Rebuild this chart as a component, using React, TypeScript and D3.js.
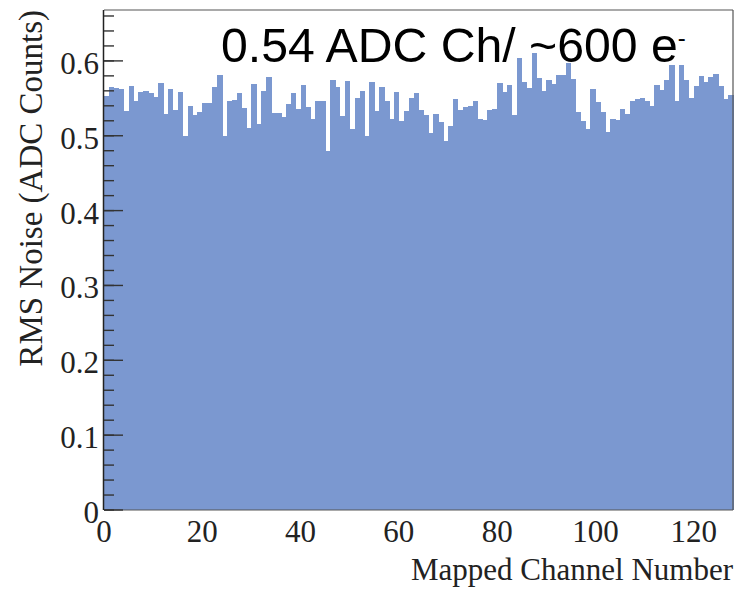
import React from "react";
import * as d3 from "d3";

const channels: number[] = d3.range(128);
const rmsNoise: number[] = [
  0.553, 0.565, 0.564, 0.562, 0.533, 0.567, 0.547, 0.558, 0.560, 0.557,
  0.552, 0.571, 0.529, 0.562, 0.534, 0.558, 0.500, 0.540, 0.528, 0.532,
  0.544, 0.544, 0.565, 0.581, 0.500, 0.547, 0.548, 0.557, 0.537, 0.511,
  0.569, 0.516, 0.560, 0.578, 0.531, 0.530, 0.525, 0.542, 0.557, 0.536,
  0.568, 0.538, 0.522, 0.546, 0.547, 0.480, 0.575, 0.565, 0.527, 0.573,
  0.509, 0.551, 0.560, 0.500, 0.572, 0.533, 0.565, 0.547, 0.522, 0.558,
  0.520, 0.533, 0.551, 0.557, 0.534, 0.528, 0.504, 0.529, 0.519, 0.493,
  0.513, 0.549, 0.535, 0.538, 0.540, 0.546, 0.523, 0.521, 0.535, 0.536,
  0.571, 0.559, 0.568, 0.528, 0.604, 0.572, 0.564, 0.611, 0.577, 0.560,
  0.575, 0.569, 0.581, 0.581, 0.597, 0.576, 0.532, 0.520, 0.509, 0.563,
  0.545, 0.532, 0.505, 0.523, 0.521, 0.536, 0.529, 0.547, 0.549, 0.550,
  0.546, 0.540, 0.568, 0.561, 0.575, 0.594, 0.547, 0.594, 0.574, 0.550,
  0.567, 0.580, 0.572, 0.579, 0.582, 0.566, 0.549, 0.555,
];
const xTicks: number[] = [0, 20, 40, 60, 80, 100, 120];
const yTicks: number[] = [0, 0.1, 0.2, 0.3, 0.4, 0.5, 0.6];
const yTickLabels: string[] = ["0", "0.1", "0.2", "0.3", "0.4", "0.5", "0.6"];
const xTitle = "Mapped Channel Number";
const yTitle = "RMS Noise (ADC Counts)";
const annotation = "0.54 ADC Ch/ ~600 e";
const annotationSup = "-";

export default function App() {
  const W = 738;
  const H = 590;
  const left = 104;
  const right = 733;
  const top = 10;
  const bottom = 510;
  const x = d3.scaleLinear().domain([0, 128]).range([left, right]);
  const y = d3.scaleLinear().domain([0, 0.668]).range([bottom, top]);
  const minor = d3.range(0, 0.668, 0.02);
  const serif = "'Liberation Serif', 'Times New Roman', serif";
  const sans = "'Liberation Sans', Arial, sans-serif";
  const fill = "#7b98d0";

  return (
    <svg
      width={W}
      height={H}
      style={{ position: "absolute", left: 0, top: 0, background: "#fff" }}
    >
      <rect x={0} y={0} width={W} height={H} fill="#fff" />
      {/* bars */}
      <g shapeRendering="crispEdges">
        {channels.map((c, i) => (
          <rect
            key={c}
            x={x(c)}
            y={y(rmsNoise[i])}
            width={x(c + 1) - x(c) + 0.6}
            height={y(0) - y(rmsNoise[i])}
            fill={fill}
          />
        ))}
      </g>
      {/* frame */}
      <g fill="none" stroke="#555" strokeWidth={1.2}>
        <line x1={left} x2={right} y1={top} y2={top} />
        <line x1={right} x2={right} y1={top} y2={bottom} />
        <line x1={left} x2={right} y1={bottom} y2={bottom} />
      </g>
      {/* left axis */}
      <line x1={left - 0.5} x2={left - 0.5} y1={top} y2={bottom} stroke="#222" strokeWidth={1.5} />
      <g stroke="#333" strokeWidth={1.4}>
        {minor.map((v, i) => (
          <line key={"m" + i} x1={left} x2={left + 10} y1={y(v)} y2={y(v)} />
        ))}
        {yTicks.map((v, i) => (
          <line key={"M" + i} x1={left} x2={left + 19} y1={y(v)} y2={y(v)} />
        ))}
      </g>
      {/* y tick labels */}
      <g fontFamily={serif} fontSize={31} fill="#222" textAnchor="end">
        {yTicks.map((v, i) => (
          <text key={"yl" + i} x={99} y={y(v) + 13}>
            {yTickLabels[i]}
          </text>
        ))}
      </g>
      {/* x tick labels */}
      <g fontFamily={serif} fontSize={31} fill="#222" textAnchor="middle">
        {xTicks.map((v) => (
          <text key={"xl" + v} x={x(v)} y={542}>
            {String(v)}
          </text>
        ))}
      </g>
      {/* axis titles */}
      <text
        x={right}
        y={580}
        fontFamily={serif}
        fontSize={31}
        fill="#222"
        textAnchor="end"
      >
        {xTitle}
      </text>
      <text
        transform={`translate(42, ${top}) rotate(-90)`}
        fontFamily={serif}
        fontSize={33}
        fill="#222"
        textAnchor="end"
      >
        {yTitle}
      </text>
      {/* annotation */}
      <text x={221} y={62} fontFamily={sans} fontSize={48.2} fill="#000">
        {annotation}
        <tspan fontSize={24} dy={-16}>
          {annotationSup}
        </tspan>
      </text>
    </svg>
  );
}
